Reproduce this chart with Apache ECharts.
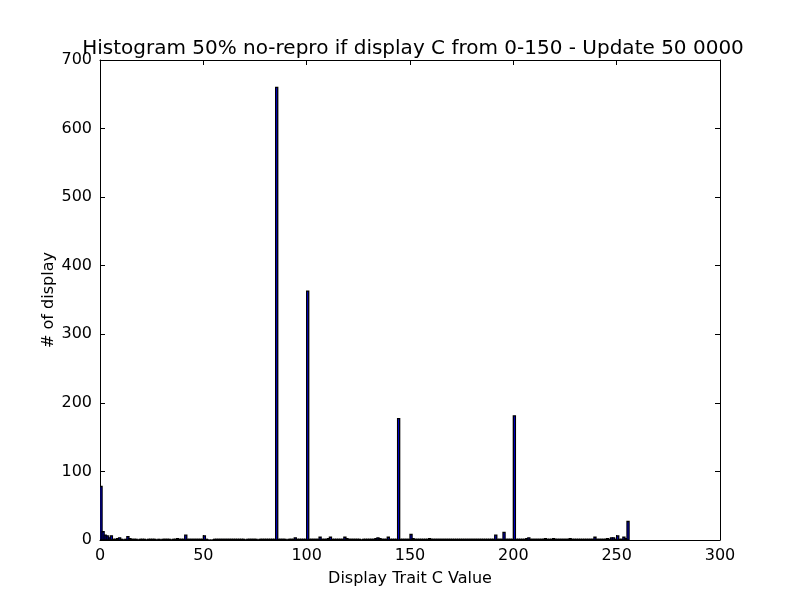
<!DOCTYPE html>
<html>
<head>
  <meta charset="UTF-8">
  <script src="https://cdn.jsdelivr.net/npm/echarts@6/dist/echarts.min.js"></script>
</head>
<body style="margin:0">
  <div id="main" style="width:800px;height:600px;"></div>
  <script>
    // histogram counts, one bin per integer value 0..255
    var counts = [
      78, 12, 7, 6, 3, 6, 1, 1, 2, 3, 1, 0, 1, 5, 2, 1,
      1, 1, 0, 1, 1, 1, 0, 1, 1, 1, 1, 0, 1, 0, 1, 1,
      1, 1, 0, 1, 1, 2, 1, 1, 1, 7, 1, 1, 1, 1, 1, 1,
      1, 1, 6, 1, 0, 0, 0, 1, 1, 1, 1, 1, 1, 1, 1, 1,
      1, 1, 1, 1, 1, 1, 0, 1, 1, 1, 1, 1, 0, 1, 1, 1,
      1, 1, 1, 1, 1, 660, 1, 1, 1, 1, 0, 1, 1, 1, 3, 1,
      1, 1, 1, 1, 363, 1, 1, 1, 1, 1, 4, 1, 1, 1, 2, 4,
      1, 1, 1, 1, 1, 1, 4, 2, 1, 1, 1, 1, 1, 1, 0, 1,
      1, 1, 1, 1, 1, 2, 3, 2, 1, 1, 1, 4, 1, 1, 1, 1,
      177, 1, 1, 1, 1, 1, 8, 2, 1, 1, 1, 1, 1, 1, 1, 2,
      1, 1, 1, 1, 1, 1, 1, 1, 1, 1, 1, 1, 1, 1, 1, 1,
      1, 1, 1, 1, 1, 1, 1, 1, 1, 1, 1, 1, 1, 1, 1, 7,
      1, 1, 1, 11, 1, 1, 1, 1, 181, 1, 1, 1, 1, 1, 2, 3,
      1, 1, 1, 1, 1, 1, 1, 2, 1, 1, 1, 2, 1, 1, 1, 1,
      1, 1, 1, 2, 1, 1, 1, 1, 1, 1, 1, 1, 1, 1, 1, 4,
      1, 1, 1, 1, 1, 2, 1, 3, 3, 1, 6, 1, 1, 4, 2, 27
    ];
    var binWidth = 1;
    var binStarts = counts.map(function (c, i) { return i * binWidth; });
    var xTicks = [0, 50, 100, 150, 200, 250, 300];
    var yTicks = [0, 100, 200, 300, 400, 500, 600, 700];

    var font = 'DejaVu Sans';
    var chart = echarts.init(document.getElementById('main'));

    function axisStyle(show) {
      return {
        axisLine: { show: true, onZero: false, lineStyle: { color: '#000', width: 1 } },
        axisTick: { show: true, inside: true, length: 5, lineStyle: { color: '#000' } },
        axisLabel: { show: show, color: '#000', fontFamily: font, fontSize: 16, margin: 8 },
        splitLine: { show: false }
      };
    }

    var xMain = Object.assign({
      type: 'value', min: xTicks[0], max: xTicks[xTicks.length - 1], interval: 50,
      position: 'bottom',
      name: 'Display Trait C Value', nameLocation: 'middle', nameGap: 31,
      nameTextStyle: { color: '#000', fontFamily: font, fontSize: 16 }
    }, axisStyle(true));
    var xTop = Object.assign({
      type: 'value', min: xTicks[0], max: xTicks[xTicks.length - 1], interval: 50,
      position: 'top'
    }, axisStyle(false));
    var yMain = Object.assign({
      type: 'value', min: yTicks[0], max: yTicks[yTicks.length - 1], interval: 100,
      position: 'left',
      name: '# of display', nameLocation: 'middle', nameGap: 43, nameRotate: 90,
      nameMoveOverlap: false,
      nameTextStyle: { color: '#000', fontFamily: font, fontSize: 16 }
    }, axisStyle(true));
    var yRight = Object.assign({
      type: 'value', min: yTicks[0], max: yTicks[yTicks.length - 1], interval: 100,
      position: 'right'
    }, axisStyle(false));

    chart.setOption({
      animation: false,
      backgroundColor: '#fff',
      title: {
        text: 'Histogram 50% no-repro if display C from 0-150 - Update 50 0000',
        left: 408, textAlign: 'center', top: 34,
        textStyle: { color: '#000', fontFamily: font, fontSize: 20, fontWeight: 'normal' }
      },
      grid: { left: 100, right: 80, top: 60, bottom: 60 },
      xAxis: [xMain, xTop],
      yAxis: [yMain, yRight],
      series: [{
        type: 'custom',
        clip: true,
        data: binStarts.map(function (x, i) { return [x, counts[i]]; }),
        encode: { x: 0, y: 1 },
        renderItem: function (params, api) {
          var x0 = api.value(0);
          var y = api.value(1);
          var p0 = api.coord([x0, y]);
          var p1 = api.coord([x0 + binWidth, 0]);
          return {
            type: 'rect',
            shape: { x: p0[0], y: p0[1], width: p1[0] - p0[0], height: p1[1] - p0[1] },
            style: { fill: '#0000ff', stroke: '#000', lineWidth: 1.3 }
          };
        }
      }]
    });
  </script>
</body>
</html>
